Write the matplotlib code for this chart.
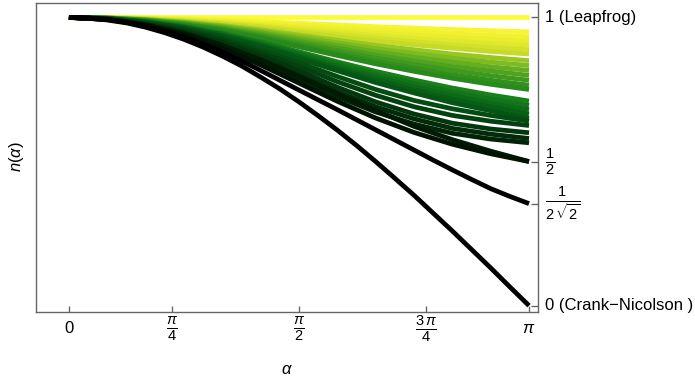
import numpy as np
import matplotlib
matplotlib.use("Agg")
import matplotlib.pyplot as plt

plt.rcParams["font.family"] = ["Liberation Sans", "DejaVu Sans"]
plt.rcParams["mathtext.fontset"] = "custom"
plt.rcParams["mathtext.rm"] = "Liberation Sans"
plt.rcParams["mathtext.it"] = "Liberation Sans:italic"
plt.rcParams["mathtext.bf"] = "Liberation Sans:bold"

# === DATA ===
# alpha sample points, as fractions of pi
alpha_frac = [0, 1/12, 2/12, 3/12, 4/12, 5/12, 6/12, 7/12, 8/12, 9/12, 10/12, 11/12, 1.0]
alpha_frac_fine = [k / 24 for k in range(25)]   # the two black curves bend most

leapfrog = [1, 1, 1, 1, 1, 1, 1, 1, 1, 1, 1, 1, 1]
crank_nicolson = [1, 0.998, 0.991, 0.981, 0.966, 0.947, 0.924, 0.897, 0.866, 0.832,
                  0.793, 0.752, 0.707, 0.659, 0.609, 0.556, 0.500, 0.442, 0.383,
                  0.321, 0.259, 0.195, 0.131, 0.065, 0.0]
inv_2sqrt2 = [1, 0.998, 0.993, 0.984, 0.971, 0.954, 0.933, 0.908, 0.880, 0.849,
              0.816, 0.782, 0.748, 0.714, 0.680, 0.645, 0.610, 0.575, 0.540,
              0.505, 0.471, 0.438, 0.406, 0.379, 0.354]

# family of schemes in between, lightest first
family = [
    [1, 0.999, 0.998, 0.995, 0.991, 0.986, 0.980, 0.974, 0.968, 0.963, 0.958, 0.954, 0.950],
    [1, 0.999, 0.997, 0.993, 0.988, 0.981, 0.973, 0.965, 0.957, 0.950, 0.943, 0.938, 0.933],
    [1, 0.999, 0.996, 0.991, 0.985, 0.976, 0.966, 0.957, 0.947, 0.939, 0.931, 0.924, 0.918],
    [1, 0.999, 0.995, 0.990, 0.982, 0.972, 0.960, 0.949, 0.937, 0.927, 0.918, 0.910, 0.903],
    [1, 0.999, 0.995, 0.988, 0.979, 0.968, 0.954, 0.941, 0.928, 0.916, 0.905, 0.896, 0.888],
    [1, 0.998, 0.994, 0.987, 0.977, 0.963, 0.948, 0.933, 0.918, 0.905, 0.893, 0.882, 0.873],
    [1, 0.998, 0.993, 0.984, 0.972, 0.957, 0.939, 0.921, 0.903, 0.888, 0.873, 0.861, 0.850],
    [1, 0.998, 0.992, 0.983, 0.969, 0.952, 0.932, 0.912, 0.892, 0.875, 0.859, 0.845, 0.833],
    [1, 0.998, 0.991, 0.981, 0.966, 0.947, 0.925, 0.903, 0.881, 0.862, 0.845, 0.829, 0.816],
    [1, 0.998, 0.991, 0.979, 0.963, 0.942, 0.918, 0.894, 0.870, 0.849, 0.830, 0.814, 0.799],
    [1, 0.997, 0.990, 0.977, 0.960, 0.937, 0.911, 0.885, 0.859, 0.837, 0.816, 0.798, 0.782],
    [1, 0.997, 0.989, 0.975, 0.957, 0.932, 0.904, 0.875, 0.848, 0.824, 0.801, 0.782, 0.765],
    [1, 0.997, 0.988, 0.974, 0.954, 0.928, 0.898, 0.868, 0.839, 0.813, 0.789, 0.768, 0.750],
    [1, 0.997, 0.986, 0.970, 0.946, 0.916, 0.881, 0.846, 0.813, 0.783, 0.755, 0.731, 0.710],
    [1, 0.996, 0.986, 0.968, 0.944, 0.912, 0.875, 0.838, 0.803, 0.771, 0.742, 0.717, 0.695],
    [1, 0.996, 0.985, 0.966, 0.941, 0.907, 0.869, 0.830, 0.794, 0.760, 0.730, 0.703, 0.680],
    [1, 0.996, 0.984, 0.965, 0.938, 0.903, 0.863, 0.822, 0.784, 0.749, 0.717, 0.690, 0.665],
    [1, 0.996, 0.984, 0.963, 0.935, 0.899, 0.857, 0.815, 0.774, 0.738, 0.704, 0.676, 0.650],
    [1, 0.996, 0.982, 0.960, 0.928, 0.888, 0.843, 0.795, 0.750, 0.712, 0.683, 0.660, 0.640],
    [1, 0.995, 0.979, 0.956, 0.922, 0.878, 0.830, 0.777, 0.730, 0.690, 0.660, 0.640, 0.625],
    [1, 0.994, 0.977, 0.952, 0.914, 0.867, 0.815, 0.758, 0.707, 0.665, 0.633, 0.613, 0.600],
    [1, 0.994, 0.975, 0.946, 0.905, 0.856, 0.800, 0.742, 0.690, 0.648, 0.615, 0.595, 0.580],
    [1, 0.993, 0.973, 0.940, 0.897, 0.845, 0.785, 0.725, 0.672, 0.630, 0.598, 0.578, 0.565],
    [1, 0.993, 0.975, 0.945, 0.903, 0.852, 0.795, 0.735, 0.677, 0.622, 0.576, 0.536, 0.500],
    [1, 0.993, 0.973, 0.940, 0.893, 0.835, 0.772, 0.709, 0.651, 0.601, 0.560, 0.527, 0.500],
]
family_colors = [
    "#f7f532", "#f1f130", "#eaed2e", "#e0e82c", "#d4e12a", "#c6da28",
    "#98c723", "#7dbb21", "#65ae20", "#50a31f", "#3f991e", "#31911d", "#28891c",
    "#1b801b", "#137519", "#0d6b18", "#086016", "#055614", "#044c12",
    "#03420f", "#02360c", "#022c09", "#012407", "#011a04", "#001302",
]

xtick_frac = [0, 0.224, 0.5, 0.776, 1.0]   # where the ticks sit in the picture
xtick_labels = ["0", r"$\frac{\pi}{4}$", r"$\frac{\pi}{2}$", r"$\frac{3\,\pi}{4}$", r"$\pi$"]
ytick_vals = [0, 1 / (2 * np.sqrt(2)), 0.5, 1]
ytick_labels = ["0 (Crank\u2212Nicolson )", r"$\frac{1}{2\,\sqrt{2}}$", r"$\frac{1}{2}$", "1 (Leapfrog)"]

# === PLOT ===
alpha = np.array(alpha_frac) * np.pi
alpha_fine = np.array(alpha_frac_fine) * np.pi

fig = plt.figure(figsize=(6.95, 3.81), dpi=100)
ax = fig.add_axes([0.0518, 0.1819, 0.7223, 0.8102])

style = dict(lw=3.4, solid_capstyle="butt", solid_joinstyle="round")
ax.plot(alpha, leapfrog, color="#fbfb37", **style)
for vals, col in zip(family, family_colors):
    ax.plot(alpha, vals, color=col, **style)
ax.plot(alpha_fine, inv_2sqrt2, color="black", **style)
ax.plot(alpha_fine, crank_nicolson, color="black", **style)

ax.set_xlim(-0.225, 3.203)
ax.set_ylim(-0.021, 1.05)

frame_col = "#666666"
for s in ax.spines.values():
    s.set_color(frame_col)
    s.set_linewidth(1.0)

ax.set_xticks(np.array(xtick_frac) * np.pi)
ax.set_xticklabels(xtick_labels)
ax.yaxis.tick_right()
ax.set_yticks(ytick_vals)
ax.set_yticklabels(ytick_labels)
ax.tick_params(axis="x", direction="in", length=4, width=1, color=frame_col, pad=12)
ax.tick_params(axis="y", direction="in", length=5, width=1, color=frame_col, pad=5)
for lab, txt in zip(ax.get_xticklabels(), xtick_labels):
    lab.set_va("center")
    lab.set_fontsize(15 if "frac" in txt else 12)
for lab, txt in zip(ax.get_yticklabels(), ytick_labels):
    lab.set_va("center")
    lab.set_fontsize(15 if "frac" in txt else 12)

fig.text(0.024, 0.588, r"$n(\alpha)$", rotation=90, fontsize=12, ha="center", va="center")
fig.text(0.413, 0.029, r"$\alpha$", fontsize=12, ha="center", va="center")

fig.savefig("out.png", dpi=100)
